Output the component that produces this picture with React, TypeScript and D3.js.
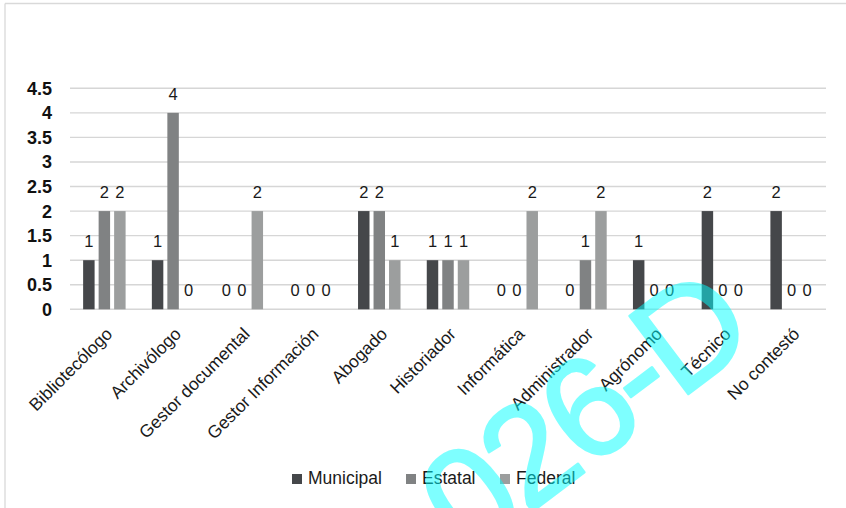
import React from "react";
import * as d3 from "d3";

// Professions surveyed and respondents per government level
const categories = [
  "Bibliotecólogo",
  "Archivólogo",
  "Gestor documental",
  "Gestor Información",
  "Abogado",
  "Historiador",
  "Informática",
  "Administrador",
  "Agrónomo",
  "Técnico",
  "No contestó",
];
const municipal = [1, 1, 0, 0, 2, 1, 0, 0, 1, 2, 2];
const estatal = [2, 4, 0, 0, 2, 1, 0, 1, 0, 0, 0];
const federal = [2, 0, 2, 0, 1, 1, 2, 2, 0, 0, 0];
const seriesNames = ["Municipal", "Estatal", "Federal"];
const yTicks = [0, 0.5, 1, 1.5, 2, 2.5, 3, 3.5, 4, 4.5];
const stampText = "026-D";

const W = 846;
const H = 508;
const colors = ["#45474a", "#808283", "#9c9e9e"];
const FONT = "'Liberation Sans', Arial, sans-serif";

export default function App() {
  const series = [municipal, estatal, federal];
  const x = d3.scaleBand<string>().domain(categories).range([70, 826]).padding(0);
  const inner = d3
    .scaleBand<string>()
    .domain(seriesNames)
    .range([-23.25, 23.25])
    .paddingInner(0.26)
    .paddingOuter(0.13);
  const y = d3.scaleLinear().domain([0, 4.5]).range([309.3, 88.3]);

  const legendX = [292, 406, 500];

  return (
    <svg
      width={W}
      height={H}
      style={{ position: "absolute", left: 0, top: 0, background: "#fff" }}
      fontFamily={FONT}
    >
      <rect x={0} y={0} width={W} height={H} fill="#fff" />
      {/* outer frame */}
      <line x1={5} x2={W} y1={3.5} y2={3.5} stroke="#d9d9d9" strokeWidth={1.3} />
      <line x1={5} x2={5} y1={3.5} y2={H} stroke="#d9d9d9" strokeWidth={1.3} />

      {/* gridlines and y tick labels */}
      {yTicks.map((t) => (
        <g key={t}>
          <line
            x1={70}
            x2={826}
            y1={y(t)}
            y2={y(t)}
            stroke="#d6d6d6"
            strokeWidth={1.4}
          />
          <text
            x={52}
            y={y(t) + 6.5}
            textAnchor="end"
            fontSize={18}
            fontWeight="bold"
            fill="#111"
          >
            {String(t)}
          </text>
        </g>
      ))}

      {/* bars with value labels */}
      {categories.map((c, i) => (
        <g key={c} transform={`translate(${x(c)! + x.bandwidth() / 2},0)`}>
          {series.map((s, k) => {
            const bx = inner(seriesNames[k])!;
            const v = s[i];
            return (
              <g key={k}>
                {v > 0 && (
                  <rect
                    x={bx}
                    y={y(v)}
                    width={inner.bandwidth()}
                    height={y(0) - y(v)}
                    fill={colors[k]}
                  />
                )}
                <text
                  x={bx + inner.bandwidth() / 2}
                  y={y(v) - 13}
                  textAnchor="middle"
                  fontSize={16.5}
                  fill="#1a1a1a"
                >
                  {v}
                </text>
              </g>
            );
          })}
        </g>
      ))}

      {/* category labels */}
      {categories.map((c) => {
        const cx = x(c)! + x.bandwidth() / 2 + 9;
        const cy = 335;
        return (
          <text
            key={c}
            x={cx}
            y={cy}
            textAnchor="end"
            fontSize={17.5}
            fill="#1a1a1a"
            transform={`rotate(-45,${cx},${cy})`}
          >
            {c}
          </text>
        );
      })}

      {/* legend */}
      {seriesNames.map((n, k) => (
        <g key={n}>
          <rect x={legendX[k]} y={474} width={10} height={10} fill={colors[k]} />
          <text x={legendX[k] + 16} y={484} fontSize={17.5} fill="#1a1a1a">
            {n}
          </text>
        </g>
      ))}

      {/* stamp */}
      <g opacity={0.5} transform="translate(468,560) rotate(-37)">
        <text
          x={0}
          y={0}
          fontSize={142}
          letterSpacing={-5}
          fill="#00ffff"
          stroke="#00ffff"
          strokeWidth={2.5}
          strokeLinejoin="round"
        >
          {stampText}
        </text>
      </g>
    </svg>
  );
}
